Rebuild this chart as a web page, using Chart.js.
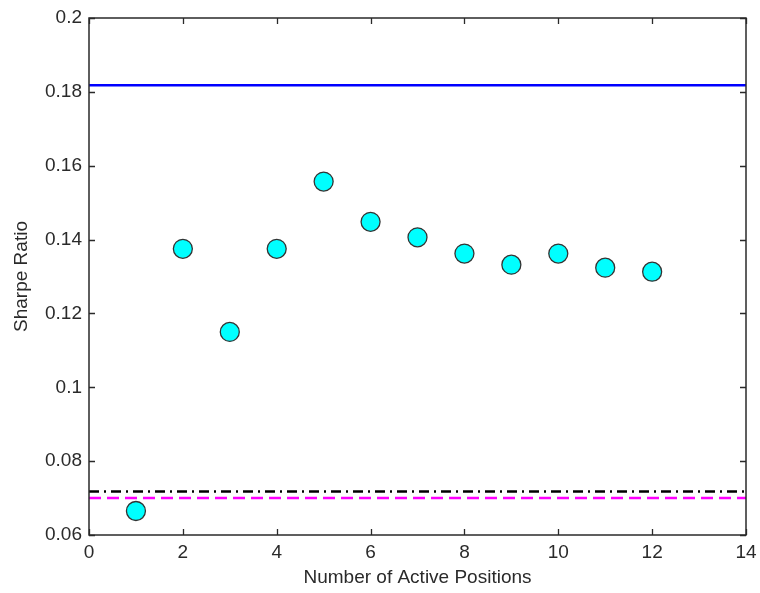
<!DOCTYPE html>
<html>
<head>
<meta charset="utf-8">
<script src="https://cdn.jsdelivr.net/npm/chart.js@4/dist/chart.umd.min.js"></script>
<style>
html,body{margin:0;padding:0;background:#fff;}
#wrap{width:760px;height:593px;}
</style>
</head>
<body>
<div id="wrap"><canvas id="c" width="760" height="593"></canvas></div>
<script>
const positions = [1, 2, 3, 4, 5, 6, 7, 8, 9, 10, 11, 12];
const sharpeRatios = [0.0665, 0.1375, 0.1150, 0.1375, 0.1557, 0.1448, 0.1406, 0.1362, 0.1332, 0.1362, 0.1324, 0.1313];
const blueLevel = 0.1818;
const blackLevel = 0.0718;
const magentaLevel = 0.0700;
const xRange = [0, 14];
const yRange = [0.06, 0.2];
const xTicks = [0, 2, 4, 6, 8, 10, 12, 14];
const yTicks = [0.06, 0.08, 0.1, 0.12, 0.14, 0.16, 0.18, 0.2];

const FONT = '"Liberation Sans", Arial, Helvetica, sans-serif';
const AX = '#2a2a2a';

function hline(v){ return [{x: xRange[0], y: v}, {x: xRange[1], y: v}]; }

const boxTicks = {
  id: 'boxTicks',
  afterDatasetsDraw(chart){
    const {ctx, chartArea: a, scales: {x, y}} = chart;
    ctx.save();
    ctx.strokeStyle = AX;
    ctx.lineWidth = 1.3;
    ctx.beginPath();
    const L = 6;
    xTicks.forEach(t => {
      const px = Math.round(x.getPixelForValue(t)) + 0.5;
      ctx.moveTo(px, a.bottom); ctx.lineTo(px, a.bottom - L);
      ctx.moveTo(px, a.top); ctx.lineTo(px, a.top + L);
    });
    yTicks.forEach(t => {
      const py = Math.round(y.getPixelForValue(t)) + 0.5;
      ctx.moveTo(a.left, py); ctx.lineTo(a.left + L, py);
      ctx.moveTo(a.right, py); ctx.lineTo(a.right - L, py);
    });
    ctx.stroke();
    ctx.lineWidth = 1.5;
    ctx.strokeRect(a.left, a.top, a.right - a.left, a.bottom - a.top);
    ctx.restore();
  }
};

new Chart(document.getElementById('c'), {
  type: 'scatter',
  data: {
    datasets: [
      {
        data: hline(blueLevel), showLine: true, pointRadius: 0,
        borderColor: '#0000ff', borderWidth: 2.5, order: 3
      },
      {
        data: hline(blackLevel), showLine: true, pointRadius: 0,
        borderColor: '#000000', borderWidth: 2.5, borderDash: [10, 5, 2, 5], order: 3
      },
      {
        data: hline(magentaLevel), showLine: true, pointRadius: 0,
        borderColor: '#ff00ff', borderWidth: 2.5, borderDash: [12, 6], order: 3
      },
      {
        data: positions.map((p, i) => ({x: p, y: sharpeRatios[i]})),
        showLine: false,
        pointStyle: 'circle', pointRadius: 9.5, pointHoverRadius: 9.5,
        backgroundColor: '#00ffff', borderColor: '#333333', borderWidth: 1.3, order: 1
      }
    ]
  },
  options: {
    responsive: false,
    animation: false,
    events: [],
    layout: {padding: {left: 0, right: 14, top: 18, bottom: 0}},
    plugins: {legend: {display: false}, tooltip: {enabled: false}},
    scales: {
      x: {
        type: 'linear', min: xRange[0], max: xRange[1],
        afterFit(s){ s.height = 58; s.paddingLeft = 0; s.paddingRight = 0; },
        afterBuildTicks(s){ s.ticks = xTicks.map(v => ({value: v})); },
        grid: {display: true, drawOnChartArea: false, drawTicks: false},
        border: {display: false},
        ticks: {color: AX, font: {family: FONT, size: 19}, padding: 6, maxRotation: 0},
        title: {display: true, text: 'Number of Active Positions', color: AX,
                font: {family: FONT, size: 19}, padding: {top: 0, bottom: 4}}
      },
      y: {
        type: 'linear', min: yRange[0], max: yRange[1],
        afterFit(s){ s.width = 89; s.paddingTop = 0; s.paddingBottom = 0; },
        afterBuildTicks(s){ s.ticks = yTicks.map(v => ({value: v})); },
        grid: {display: true, drawOnChartArea: false, drawTicks: false},
        border: {display: false},
        ticks: {color: AX, font: {family: FONT, size: 19}, padding: 7,
                callback: v => String(parseFloat(Number(v).toFixed(2)))},
        title: {display: true, text: 'Sharpe Ratio', color: AX,
                font: {family: FONT, size: 19}, padding: {top: 10, bottom: 0}}
      }
    }
  },
  plugins: [boxTicks]
});
</script>
</body>
</html>
